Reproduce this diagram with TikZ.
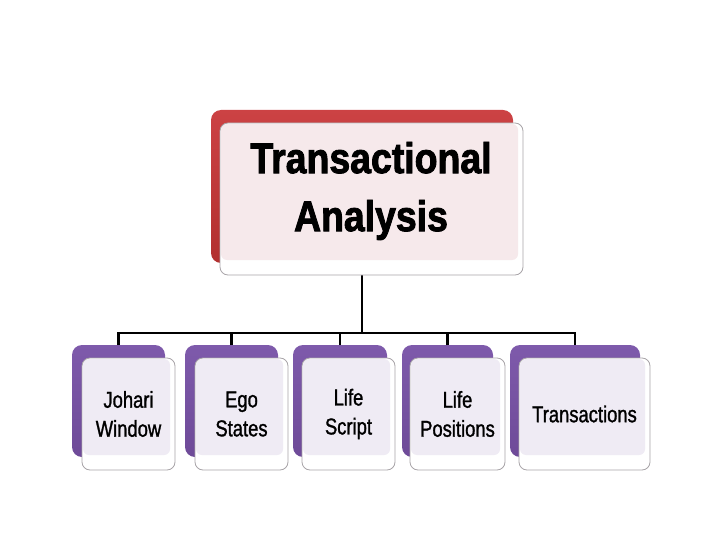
\documentclass[tikz,border=0pt]{standalone}
\usepackage{fontspec}
\setmainfont{Liberation Sans}
\newfontfamily\narrowfont[FakeStretch=0.8,FakeBold=1.2]{Liberation Sans}
\newfontfamily\titlefont[FakeStretch=0.87,FakeBold=2]{Liberation Sans Bold}
\definecolor{redtop}{HTML}{CC4244}
\definecolor{redbot}{HTML}{B2302F}
\definecolor{purtop}{HTML}{7E5AAB}
\definecolor{purbot}{HTML}{6E4A98}
\definecolor{pinkin}{HTML}{F6E9EB}
\definecolor{lavin}{HTML}{EFEBF4}
\definecolor{framegray}{HTML}{A8A4A8}
\begin{document}
\begin{tikzpicture}[x=1pt,y=-1pt,
  backbox/.style={rounded corners=10pt, inner sep=0pt, outer sep=0pt},
  redback/.style={backbox, top color=redtop, bottom color=redbot},
  purback/.style={backbox, top color=purtop, bottom color=purbot},
  frontbox/.style={draw=framegray, line width=0.8pt, fill=white, rounded corners=8pt,
    inner sep=0pt, outer sep=0pt,
    path picture={\fill[#1, rounded corners=6pt]
      ([xshift=1pt,yshift=-1pt]path picture bounding box.north west) rectangle
      ([xshift=-5pt,yshift=15pt]path picture bounding box.south east);}},
  conn/.style={line width=2.6pt, black},
  titletext/.style={font=\titlefont\fontsize{43}{58}\selectfont, align=center, text=black},
  smalltext/.style={font=\narrowfont\fontsize{23}{29}\selectfont, align=center, text=black}
]
\useasboundingbox (0,0) rectangle (720,540);

% back boxes
\node[redback, minimum width=302pt, minimum height=153pt] (tb) at (362,186.5) {};
\node[purback, minimum width=93pt, minimum height=112pt] (b1) at (118.5,401) {};
\node[purback, minimum width=93pt, minimum height=112pt] (b2) at (231.5,401) {};
\node[purback, minimum width=94pt, minimum height=112pt] (b3) at (340,401) {};
\node[purback, minimum width=91pt, minimum height=112pt] (b4) at (447.5,401) {};
\node[purback, minimum width=130pt, minimum height=112pt] (b5) at (575,401) {};

% connectors
\coordinate (bus) at (362,333);
\draw[conn] (tb.south) -- (bus);
\draw[conn] (b1.north) |- (bus);
\draw[conn] (b2.north) |- (bus);
\draw[conn] (b3.north) |- (bus);
\draw[conn] (b4.north) |- (bus);
\draw[conn] (b5.north) |- (bus);

% front boxes
\node[frontbox=pinkin, minimum width=303pt, minimum height=152pt] (tf) at (371.5,199) {};
\node[titletext] (tt) at (371,191) {Transactional\\Analysis};

\node[frontbox=lavin, minimum width=93pt, minimum height=112pt, smalltext] (f1) at (128.5,414) {Johari\\Window};
\node[frontbox=lavin, minimum width=93pt, minimum height=112pt, smalltext] (f2) at (241.5,414) {Ego\\States};
\node[frontbox=lavin, minimum width=93pt, minimum height=112pt, smalltext] (f3) at (348.5,414) {Life\\Script};
\node[frontbox=lavin, minimum width=95pt, minimum height=112pt, smalltext] (f4) at (457.5,414) {Life\\Positions};
\node[frontbox=lavin, minimum width=131pt, minimum height=112pt, smalltext] (f5) at (584.5,414) {Transactions};
\end{tikzpicture}
\end{document}
